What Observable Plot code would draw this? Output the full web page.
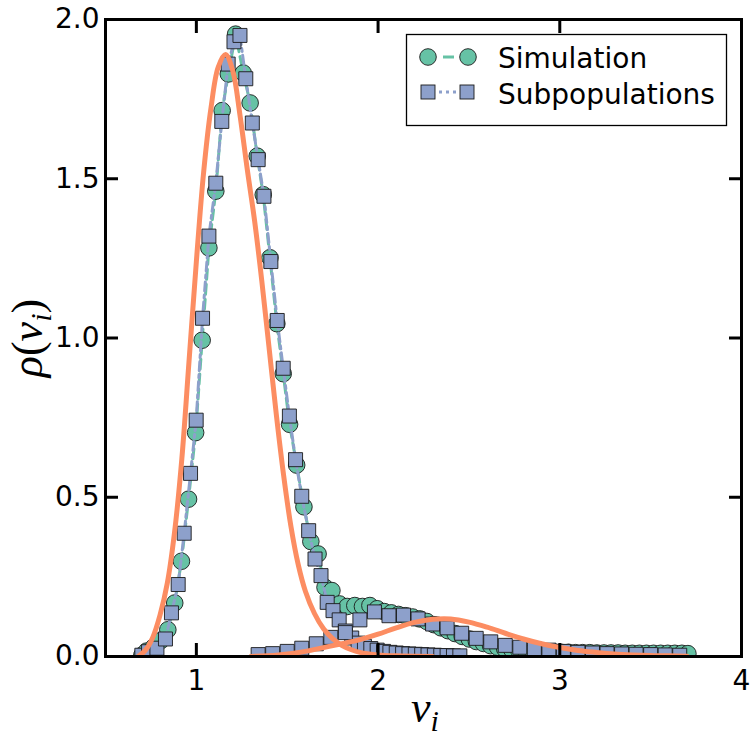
<!DOCTYPE html>
<html><head><meta charset="utf-8">
<script src="https://cdn.jsdelivr.net/npm/d3@7"></script>
<script src="https://cdn.jsdelivr.net/npm/@observablehq/plot@0.6"></script>
<style>body{margin:0;background:#fff;} svg{display:block}</style>
</head><body><div id="chart"></div>
<script>
// Simulation (circles)
const simV = [0.700,0.726,0.765,0.805,0.843,0.881,0.918,0.957,0.996,1.032,1.069,1.107,1.142,1.176,1.216,1.258,1.296,1.335,1.368,1.405,1.443,1.478,1.513,1.552,1.592,1.630,1.670,1.708,1.746,1.788,1.830,1.872,1.914,1.955,1.995,2.034,2.073,2.112,2.151,2.190,2.229,2.268,2.307,2.346,2.385,2.424,2.463,2.502,2.541,2.580,2.619,2.658,2.697,2.736,2.775,2.814,2.853,2.892,2.931,2.970,3.009,3.048,3.087,3.126,3.165,3.204,3.243,3.282,3.321,3.360,3.399,3.438,3.477,3.516,3.555,3.594,3.633,3.672,3.705];
const simRho = [0.004,0.017,0.030,0.050,0.084,0.168,0.299,0.494,0.703,0.993,1.283,1.461,1.714,1.829,1.954,1.832,1.738,1.571,1.450,1.252,1.045,0.888,0.729,0.601,0.470,0.361,0.322,0.217,0.207,0.165,0.157,0.160,0.157,0.160,0.150,0.141,0.137,0.132,0.128,0.124,0.118,0.110,0.100,0.090,0.081,0.072,0.063,0.055,0.047,0.041,0.034,0.029,0.024,0.021,0.019,0.017,0.016,0.015,0.014,0.014,0.013,0.013,0.012,0.012,0.012,0.011,0.011,0.011,0.011,0.010,0.010,0.010,0.010,0.010,0.010,0.010,0.010,0.010,0.009];
// Subpopulation 1 (squares)
const sub1V = [0.700,0.737,0.783,0.830,0.863,0.900,0.933,0.968,0.999,1.034,1.069,1.107,1.140,1.175,1.207,1.240,1.272,1.308,1.340,1.372,1.410,1.445,1.478,1.512,1.546,1.580,1.618,1.653,1.686,1.720,1.752,1.786,1.820,1.855,1.890,1.925,1.960,1.995,2.030,2.065,2.100,2.135,2.170,2.205,2.240,2.275,2.310,2.345,2.380,2.415,2.450];
const sub1Rho = [0.004,0.015,0.026,0.055,0.137,0.226,0.387,0.575,0.742,1.062,1.320,1.486,1.680,1.860,1.930,1.950,1.814,1.675,1.560,1.445,1.240,1.055,0.905,0.755,0.618,0.503,0.395,0.306,0.254,0.170,0.144,0.115,0.080,0.058,0.042,0.032,0.025,0.020,0.016,0.013,0.011,0.009,0.008,0.007,0.006,0.005,0.004,0.003,0.003,0.002,0.002];
// Subpopulation 2 (squares)
const sub2V = [1.34,1.42,1.50,1.58,1.66,1.74,1.82,1.90,1.98,2.06,2.14,2.22,2.30,2.38,2.46,2.54,2.62,2.70,2.78,2.86,2.94,3.02,3.10,3.18,3.26,3.34,3.42,3.50,3.58,3.66];
const sub2Rho = [0.006,0.009,0.016,0.026,0.040,0.060,0.075,0.115,0.140,0.128,0.130,0.118,0.102,0.090,0.073,0.057,0.046,0.035,0.029,0.024,0.020,0.016,0.013,0.011,0.009,0.008,0.007,0.006,0.005,0.004];
// Fitted curves (orange)
const fit1V = [0.68,0.72,0.76,0.80,0.84,0.88,0.92,0.96,1.00,1.04,1.08,1.12,1.16,1.20,1.24,1.28,1.32,1.36,1.40,1.44,1.48,1.52,1.56,1.60,1.65,1.70,1.75,1.80,1.85,1.90,2.00,2.10,2.30];
const fit1Rho = [0.000,0.020,0.060,0.130,0.230,0.390,0.620,0.930,1.240,1.520,1.720,1.850,1.890,1.840,1.700,1.530,1.370,1.180,0.970,0.760,0.570,0.410,0.290,0.205,0.135,0.087,0.056,0.035,0.022,0.013,0.005,0.002,0.000];
const fit2V = [1.30,1.45,1.60,1.70,1.80,1.90,2.00,2.10,2.20,2.30,2.40,2.50,2.60,2.70,2.80,2.90,3.00,3.10,3.20,3.30,3.40,3.50,3.60,3.70];
const fit2Rho = [0.000,0.005,0.016,0.028,0.040,0.053,0.070,0.090,0.107,0.117,0.118,0.108,0.092,0.073,0.055,0.040,0.028,0.019,0.013,0.008,0.005,0.003,0.002,0.001];

const xTicks = [1,2,3,4];
const xTickLabels = ["1","2","3","4"];
const yTicks = [0,0.5,1,1.5,2];
const yTickLabels = ["0.0","0.5","1.0","1.5","2.0"];
const seriesNames = ["Simulation","Subpopulations"];

const green = "#66c2a5", lav = "#8da0cb", orange = "#fc8d62";
const sim = simV.map((v,i)=>({v, rho: simRho[i]}));
const sub1 = sub1V.map((v,i)=>({v, rho: sub1Rho[i]}));
const sub2 = sub2V.map((v,i)=>({v, rho: sub2Rho[i]}));
const fit = [...fit1V.map((v,i)=>({v, rho: fit1Rho[i], part:1})), ...fit2V.map((v,i)=>({v, rho: fit2Rho[i], part:2}))];

const plot = Plot.plot({
  width: 756, height: 742,
  marginLeft: 105, marginRight: 15, marginTop: 19, marginBottom: 86,
  x: {domain: [0.5, 4]},
  y: {domain: [0, 2]},
  style: {fontFamily: "'DejaVu Sans', sans-serif", fontSize: "28px", color: "black", background: "white"},
  marks: [
    Plot.line(sim, {x: "v", y: "rho", stroke: green, strokeWidth: 3, strokeDasharray: "10,5", clip: true}),
    Plot.dot(sim, {x: "v", y: "rho", r: 8.3, fill: green, stroke: "#1a1a1a", strokeWidth: 0.9, clip: true}),
    Plot.line(sub1, {x: "v", y: "rho", stroke: lav, strokeWidth: 3, strokeDasharray: "9,4,3,4", clip: true}),
    Plot.dot(sub1, {x: "v", y: "rho", symbol: "square", r: 7.9, fill: lav, stroke: "#1a1a1a", strokeWidth: 0.9, clip: true}),
    Plot.line(sub2, {x: "v", y: "rho", stroke: lav, strokeWidth: 3, strokeDasharray: "9,4,3,4", clip: true}),
    Plot.dot(sub2, {x: "v", y: "rho", symbol: "square", r: 7.9, fill: lav, stroke: "#1a1a1a", strokeWidth: 0.9, clip: true}),
    Plot.line(fit, {x: "v", y: "rho", z: "part", stroke: orange, strokeWidth: 5, curve: "catmull-rom", clip: true}),
    Plot.frame({stroke: "black", strokeWidth: 3}),
    Plot.axisX(xTicks, {anchor: "bottom", tickSize: -13, tickPadding: 27, strokeWidth: 3, fontSize: 28, label: null,
      tickFormat: d => xTickLabels[xTicks.indexOf(d)]}),
    Plot.axisX(xTicks, {anchor: "top", tickSize: -13, strokeWidth: 3, label: null, tickFormat: () => ""}),
    Plot.axisY(yTicks, {anchor: "left", tickSize: -13, tickPadding: 19, strokeWidth: 3, fontSize: 28, label: null,
      tickFormat: d => yTickLabels[yTicks.indexOf(d)]}),
    Plot.axisY(yTicks, {anchor: "right", tickSize: -13, strokeWidth: 3, label: null, tickFormat: () => ""})
  ]
});
document.getElementById("chart").appendChild(plot);

const svg = d3.select(plot);
const mathFont = "'Liberation Serif', serif";
// x label
const xl = svg.append("text").attr("x", 425).attr("y", 722).attr("text-anchor", "middle")
  .style("font-family", mathFont).style("font-size", "44px").style("font-style", "italic").attr("fill", "black");
xl.append("tspan").text("v");
xl.append("tspan").attr("dy", 9).style("font-size", "30px").text("i");
// y label
const yl = svg.append("text").attr("transform", "translate(42,338) rotate(-90)").attr("text-anchor", "middle")
  .style("font-family", mathFont).style("font-size", "44px").attr("fill", "black");
yl.append("tspan").style("font-style", "italic").text("ρ");
yl.append("tspan").text("(");
yl.append("tspan").style("font-style", "italic").text("v");
yl.append("tspan").attr("dy", 9).style("font-size", "30px").style("font-style", "italic").text("i");
yl.append("tspan").attr("dy", -9).text(")");

// legend
const lg = svg.append("g").attr("text-anchor", "start");
lg.append("rect").attr("x", 406.5).attr("y", 34.5).attr("width", 320).attr("height", 91)
  .attr("fill", "white").attr("stroke", "black").attr("stroke-width", 1.3);
lg.append("line").attr("x1", 443).attr("x2", 454).attr("y1", 57).attr("y2", 57).attr("stroke", green).attr("stroke-width", 3);
[428, 468].forEach(cx => lg.append("circle").attr("cx", cx).attr("cy", 57).attr("r", 8.3)
  .attr("fill", green).attr("stroke", "#1a1a1a").attr("stroke-width", 0.9));
lg.append("line").attr("x1", 437).attr("x2", 460).attr("y1", 92).attr("y2", 92).attr("stroke", lav)
  .attr("stroke-width", 3).attr("stroke-dasharray", "3,4").attr("stroke-dashoffset", -2);
[428, 467].forEach(cx => lg.append("rect").attr("x", cx - 7).attr("y", 85).attr("width", 14).attr("height", 14)
  .attr("fill", lav).attr("stroke", "#1a1a1a").attr("stroke-width", 0.9));
seriesNames.forEach((name, i) => lg.append("text").attr("x", 498).attr("y", 68 + i * 36).attr("text-anchor", "start")
  .style("font-family", "'DejaVu Sans', sans-serif").style("font-size", "28px").attr("fill", "black").text(name));
</script>
</body></html>
